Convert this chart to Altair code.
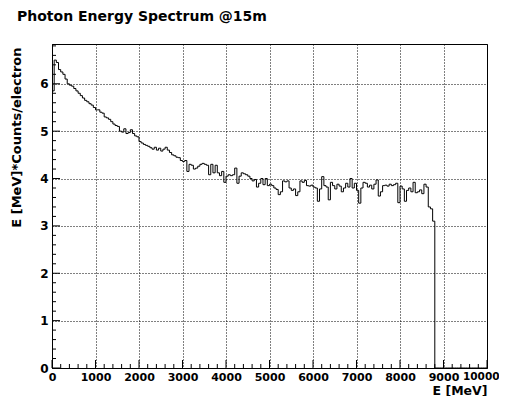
import altair as alt
import pandas as pd

# Histogram contents, 50 MeV bins, one list per 1000 MeV
seg_0k = [5.85, 6.5, 6.45, 6.3, 6.25, 6.2, 6.1, 6.0, 5.97, 5.95, 5.9, 5.85, 5.8, 5.75, 5.7, 5.65, 5.62, 5.58, 5.55, 5.5]
seg_1k = [5.45, 5.45, 5.4, 5.38, 5.3, 5.28, 5.25, 5.2, 5.15, 5.12, 5.1, 5.0, 4.98, 5.05, 4.95, 4.97, 5.03, 4.95, 4.9, 4.88]
seg_2k = [4.78, 4.75, 4.72, 4.7, 4.68, 4.65, 4.62, 4.66, 4.6, 4.64, 4.58, 4.62, 4.66, 4.6, 4.55, 4.5, 4.48, 4.45, 4.44, 4.38]
seg_3k = [4.36, 4.38, 4.15, 4.3, 4.28, 4.2, 4.22, 4.26, 4.3, 4.32, 4.3, 4.28, 4.08, 4.3, 4.12, 4.28, 4.12, 4.06, 4.15, 3.92]
seg_4k = [4.05, 4.08, 4.06, 4.08, 4.22, 3.9, 4.05, 4.12, 4.1, 4.08, 4.05, 4.0, 3.95, 3.98, 3.82, 3.9, 4.0, 3.87, 4.0, 3.85]
seg_5k = [3.88, 3.85, 3.8, 3.77, 3.66, 3.72, 3.95, 3.93, 3.95, 3.8, 3.75, 3.78, 3.64, 3.72, 3.95, 3.92, 3.96, 3.85, 3.84, 3.86]
seg_6k = [3.82, 3.8, 3.52, 3.78, 4.04, 3.85, 3.82, 3.55, 3.92, 3.85, 3.78, 3.88, 3.84, 3.72, 3.8, 3.9, 3.82, 4.0, 3.8, 3.9]
seg_7k = [3.75, 3.48, 3.8, 3.92, 3.9, 3.82, 3.86, 3.78, 3.88, 3.97, 3.63, 3.72, 3.85, 3.86, 3.84, 3.88, 3.85, 3.87, 3.9, 3.49]
seg_8k = [3.84, 3.78, 3.52, 3.75, 3.8, 3.72, 3.92, 3.7, 3.72, 3.76, 3.68, 3.88, 3.82, 3.4, 3.36, 3.1]
seg_tail = [0.0] * 24  # empty bins 8800..9950

bin_width = 50
n_bins = 200
x_major = [0, 1000, 2000, 3000, 4000, 5000, 6000, 7000, 8000, 9000, 10000]
x_minor = [t for t in range(0, 10001, 200) if t % 1000 != 0]
y_major = [0, 1, 2, 3, 4, 5, 6]
y_minor = [round(0.2 * k, 1) for k in range(0, 35) if k % 5 != 0]

values = seg_0k + seg_1k + seg_2k + seg_3k + seg_4k + seg_5k + seg_6k + seg_7k + seg_8k + seg_tail
edges = [i * bin_width for i in range(n_bins)] + [n_bins * bin_width]
hist = pd.DataFrame({"E": edges, "v": values + [values[-1]], "i": list(range(len(edges)))})

W, H = 435, 324
FONT = "DejaVu Sans"
xscale = alt.Scale(domain=[0, 10000], nice=False, zero=False)
yscale = alt.Scale(domain=[0, 6.84], nice=False, zero=True)

xaxis = alt.Axis(
    values=x_major, format="d", ticks=False, grid=True, labelPadding=3, labelOverlap=False,
    labelFontSize={"expr": "datum.value == 10000 ? 10.5 : 11"},
    labelAlign={"expr": "datum.value == 10000 ? 'right' : 'center'"},
    labelOffset={"expr": "datum.value == 10000 ? 12 : 0"},
    title="E [MeV]", titleAnchor="end", titleAlign="right", titleX=W, titleY=26,
    titleFontSize=12.5, titleBaseline="alphabetic", labelFlush=False)
yaxis = alt.Axis(
    values=y_major, format="d", ticks=False, grid=True, labelPadding=4, labelOverlap=False,
    title="E [MeV]*Counts/electron", titleAngle=270, titleAlign="right", titleFontSize=13,
    titleBaseline="alphabetic", titleX=-32, titleY=3, labelFlush=False)

line = alt.Chart(hist).mark_line(interpolate="step-after", color="black", strokeWidth=1).encode(
    x=alt.X("E:Q", scale=xscale, axis=xaxis),
    y=alt.Y("v:Q", scale=yscale, axis=yaxis),
    order="i:Q",
)

def xticks(vals, length):
    return alt.Chart(pd.DataFrame({"E": vals})).mark_rule(color="black", strokeWidth=1).encode(
        x=alt.X("E:Q", scale=xscale, axis=xaxis), y=alt.value(H), y2=alt.value(H - length))

def yticks(vals, length):
    return alt.Chart(pd.DataFrame({"v": vals})).mark_rule(color="black", strokeWidth=1).encode(
        y=alt.Y("v:Q", scale=yscale, axis=yaxis), x=alt.value(0), x2=alt.value(length))

chart = alt.layer(
    line, xticks(x_major, 8), xticks(x_minor, 4), yticks(y_major, 8), yticks(y_minor, 4)
).properties(
    width=W, height=H,
    autosize=alt.AutoSizeParams(type="none"),
    padding={"left": 44, "top": 36, "right": 12, "bottom": 28},
    title=alt.TitleParams("Photon Energy Spectrum @15m", anchor="start", frame="group", font=FONT,
                          fontSize=14, fontWeight="bold", color="black", dx=-35, offset=9,
                          baseline="alphabetic"),
).configure_view(stroke="black", strokeWidth=1).configure_axis(
    labelFont=FONT, labelFontWeight="bold", labelFontSize=12, labelColor="black",
    titleFont=FONT, titleFontWeight="bold", titleFontSize=13.5, titleColor="black",
    domainColor="black", domainWidth=1, gridColor="black", gridOpacity=1, gridWidth=1,
    gridDash=[1, 2],
)

chart.save("out.html", embed_options={"renderer": "svg", "actions": False})
